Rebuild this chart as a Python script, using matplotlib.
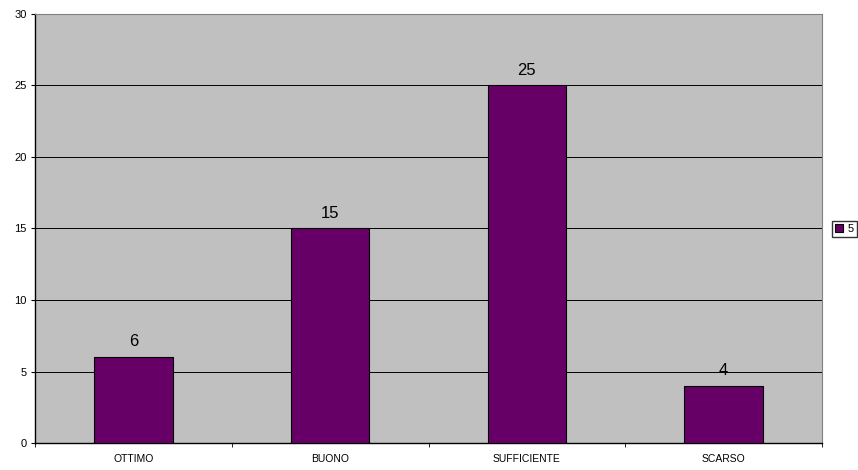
import numpy as np
import matplotlib.pyplot as plt
from matplotlib.patches import Patch

categories = ['OTTIMO', 'BUONO', 'SUFFICIENTE', 'SCARSO']
values = [6, 15, 25, 4]
series_name = '5'

fig = plt.figure(figsize=(8.58, 4.70), dpi=100)
ax = fig.add_axes([35/858, 27/470, 787/858, 429/470])
ax.set_facecolor('#c0c0c0')

x = np.arange(len(categories))
bars = ax.bar(x, values, width=0.4, color='#660066', edgecolor='black', linewidth=0.8, zorder=3)
for xi, v in zip(x, values):
    ax.text(xi, v + 0.55, str(v), ha='center', va='bottom', fontsize=12, family='Liberation Sans')

ax.set_xlim(-0.5, len(categories) - 0.5)
ax.set_ylim(0, 30)
ax.set_yticks(range(0, 31, 5))
ax.set_xticks(x)
ax.set_xticklabels(categories, fontsize=7.5, family='Liberation Sans')
ax.set_xticks(np.arange(-0.5, len(categories)), minor=True)
ax.tick_params(axis='x', which='major', length=0, pad=8)
ax.tick_params(axis='x', which='minor', length=3, direction='out')
ax.tick_params(axis='y', length=3, direction='out', labelsize=8, pad=3)
for lab in ax.get_yticklabels():
    lab.set_family('Liberation Sans')
ax.grid(axis='y', color='black', linewidth=0.7, zorder=0)
ax.set_axisbelow(True)
for side in ['top', 'right']:
    ax.spines[side].set_color('#808080')
    ax.spines[side].set_linewidth(0.8)
for side in ['left', 'bottom']:
    ax.spines[side].set_color('black')
    ax.spines[side].set_linewidth(1)

handle = Patch(facecolor='#660066', edgecolor='black', linewidth=0.8)
fig.legend([handle], [series_name], loc='center left', bbox_to_anchor=(826/858, 1 - 229/470),
           frameon=True, fancybox=False, edgecolor='black',
           handlelength=0.7, handleheight=0.7, handletextpad=0.4, borderpad=0.3,
           prop={'family': 'Liberation Sans', 'size': 8})

fig.savefig('out.png', dpi=100)
